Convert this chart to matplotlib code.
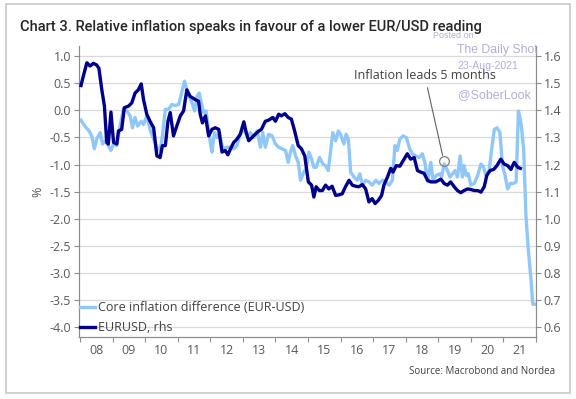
import matplotlib
matplotlib.use("Agg")
import matplotlib.pyplot as plt
from matplotlib import font_manager
from matplotlib.patches import Rectangle

# ---------------- data ----------------
# Core inflation difference (EUR-USD), %, shifted 5 months ahead (left axis)
infl_t = [2008.03, 2008.15, 2008.28, 2008.36, 2008.44, 2008.51, 2008.62, 2008.69, 2008.77, 2008.87,
          2008.95, 2009.03, 2009.13, 2009.23, 2009.33, 2009.44, 2009.54, 2009.61, 2009.69, 2009.77,
          2009.88, 2009.95, 2010.05, 2010.15, 2010.26, 2010.36, 2010.46, 2010.53, 2010.62, 2010.72,
          2010.82, 2010.92, 2011.03, 2011.13, 2011.21, 2011.31, 2011.42, 2011.52, 2011.59, 2011.66,
          2011.79, 2011.87, 2011.93, 2012.00, 2012.05, 2012.13, 2012.21, 2012.28, 2012.36, 2012.44,
          2012.51, 2012.62, 2012.72, 2012.82, 2012.92, 2013.03, 2013.13, 2013.23, 2013.33, 2013.44,
          2013.54, 2013.61, 2013.69, 2013.79, 2013.90, 2014.00, 2014.10, 2014.21, 2014.31, 2014.39,
          2014.46, 2014.53, 2014.62, 2014.70, 2014.77, 2014.87, 2014.94, 2015.03, 2015.11, 2015.18,
          2015.25, 2015.35, 2015.46, 2015.54, 2015.62, 2015.69, 2015.76, 2015.85, 2015.93, 2016.00,
          2016.10, 2016.17, 2016.24, 2016.31, 2016.41, 2016.51, 2016.59, 2016.67, 2016.77, 2016.87,
          2016.97, 2017.08, 2017.18, 2017.28, 2017.38, 2017.49, 2017.59, 2017.67, 2017.74, 2017.82,
          2017.92, 2018.02, 2018.12, 2018.20, 2018.31, 2018.41, 2018.51, 2018.59, 2018.67, 2018.77,
          2018.84, 2018.94, 2019.05, 2019.10, 2019.18, 2019.26, 2019.36, 2019.44, 2019.51, 2019.59,
          2019.67, 2019.74, 2019.79, 2019.86, 2019.92, 2020.00, 2020.10, 2020.21, 2020.31, 2020.39,
          2020.46, 2020.56, 2020.64, 2020.72, 2020.80, 2020.89, 2020.97, 2021.05, 2021.13, 2021.21,
          2021.31, 2021.39, 2021.46, 2021.54, 2021.62, 2021.69, 2021.76, 2021.85, 2021.90, 2021.95]
infl_v = [-0.18, -0.29, -0.38, -0.47, -0.71, -0.53, -0.41, -0.62, -0.56, -0.65,
          -0.74, -0.62, -0.65, -0.29, 0.02, -0.01, -0.10, -0.32, -0.13, -0.29,
          -0.20, -0.26, -0.10, -0.35, -0.53, -0.68, -0.74, -0.47, 0.02, 0.02,
          0.11, 0.09, 0.11, 0.35, 0.54, 0.32, 0.17, -0.01, 0.26, 0.32,
          -0.04, -0.01, -0.29, -0.59, -0.77, -0.41, -0.50, -0.41, -0.65, -0.71,
          -0.68, -0.68, -0.71, -0.65, -0.44, -0.35, -0.47, -0.41, -0.50, -0.38,
          -0.68, -0.41, -0.68, -0.44, -0.47, -0.62, -0.68, -0.71, -0.74, -0.96,
          -0.77, -0.65, -0.84, -0.96, -1.29, -1.14, -1.08, -0.77, -0.90, -1.05,
          -1.05, -0.87, -0.99, -1.02, -1.11, -0.77, -0.41, -0.56, -0.38, -0.44,
          -0.62, -0.44, -0.53, -1.14, -1.23, -1.29, -1.17, -1.38, -1.29, -1.32,
          -1.38, -1.29, -1.35, -1.29, -1.32, -1.38, -1.29, -0.65, -0.74, -0.53,
          -0.47, -0.50, -0.71, -0.80, -0.84, -0.87, -0.80, -0.96, -1.32, -0.96,
          -1.29, -1.20, -1.17, -1.23, -0.99, -1.08, -1.23, -1.17, -1.11, -1.23,
          -0.84, -1.23, -1.02, -1.20, -1.17, -1.38, -1.35, -1.20, -0.99, -1.05,
          -1.20, -1.11, -0.71, -0.35, -0.32, -0.40, -1.02, -1.20, -1.45, -1.35,
          -1.35, -1.32, -0.01, -0.23, -0.71, -1.93, -2.54, -3.15, -3.58, -3.58]

# EURUSD (right axis)
usd_t = [2008.03, 2008.10, 2008.21, 2008.31, 2008.41, 2008.51, 2008.58, 2008.67, 2008.75, 2008.82,
         2008.87, 2008.95, 2009.03, 2009.13, 2009.18, 2009.28, 2009.36, 2009.49, 2009.59, 2009.69,
         2009.79, 2009.88, 2009.95, 2010.05, 2010.15, 2010.26, 2010.36, 2010.46, 2010.53, 2010.62,
         2010.70, 2010.77, 2010.87, 2010.97, 2011.08, 2011.18, 2011.28, 2011.38, 2011.54, 2011.64,
         2011.69, 2011.76, 2011.85, 2011.95, 2012.05, 2012.15, 2012.26, 2012.36, 2012.46, 2012.54,
         2012.62, 2012.72, 2012.82, 2012.92, 2013.03, 2013.10, 2013.18, 2013.28, 2013.38, 2013.49,
         2013.57, 2013.69, 2013.79, 2013.92, 2014.00, 2014.10, 2014.18, 2014.29, 2014.39, 2014.49,
         2014.59, 2014.70, 2014.80, 2014.90, 2015.01, 2015.11, 2015.18, 2015.25, 2015.35, 2015.44,
         2015.54, 2015.64, 2015.74, 2015.85, 2015.95, 2016.05, 2016.15, 2016.26, 2016.36, 2016.46,
         2016.56, 2016.67, 2016.77, 2016.87, 2016.97, 2017.06, 2017.16, 2017.26, 2017.33, 2017.44,
         2017.54, 2017.61, 2017.71, 2017.82, 2017.92, 2018.05, 2018.15, 2018.26, 2018.36, 2018.46,
         2018.56, 2018.67, 2018.77, 2018.92, 2019.08, 2019.18, 2019.28, 2019.38, 2019.49, 2019.59,
         2019.69, 2019.79, 2019.90, 2020.00, 2020.10, 2020.21, 2020.31, 2020.41, 2020.49, 2020.59,
         2020.70, 2020.80, 2020.92, 2021.02, 2021.13, 2021.23, 2021.33, 2021.44, 2021.52]
usd_v = [1.492, 1.526, 1.576, 1.564, 1.574, 1.568, 1.556, 1.476, 1.416, 1.282,
         1.276, 1.394, 1.282, 1.276, 1.324, 1.330, 1.410, 1.416, 1.428, 1.464,
         1.476, 1.498, 1.440, 1.386, 1.360, 1.336, 1.232, 1.226, 1.270, 1.270,
         1.360, 1.392, 1.306, 1.342, 1.380, 1.398, 1.476, 1.452, 1.440, 1.434,
         1.386, 1.354, 1.380, 1.306, 1.330, 1.336, 1.330, 1.246, 1.252, 1.236,
         1.258, 1.282, 1.294, 1.312, 1.358, 1.320, 1.288, 1.300, 1.312, 1.324,
         1.330, 1.360, 1.364, 1.374, 1.360, 1.386, 1.380, 1.388, 1.374, 1.368,
         1.324, 1.270, 1.258, 1.232, 1.136, 1.124, 1.080, 1.118, 1.104, 1.104,
         1.124, 1.110, 1.120, 1.086, 1.088, 1.092, 1.118, 1.142, 1.124, 1.120,
         1.118, 1.126, 1.110, 1.062, 1.074, 1.056, 1.068, 1.086, 1.124, 1.154,
         1.186, 1.172, 1.196, 1.194, 1.214, 1.240, 1.220, 1.226, 1.178, 1.172,
         1.168, 1.142, 1.136, 1.136, 1.146, 1.130, 1.124, 1.136, 1.118, 1.104,
         1.096, 1.104, 1.110, 1.108, 1.104, 1.104, 1.098, 1.118, 1.160, 1.178,
         1.182, 1.196, 1.220, 1.202, 1.196, 1.182, 1.208, 1.190, 1.186]

years = list(range(2008, 2023))
year_labels = ["08", "09", "10", "11", "12", "13", "14", "15", "16", "17", "18", "19", "20", "21"]
left_ticks = [1.0, 0.5, 0.0, -0.5, -1.0, -1.5, -2.0, -2.5, -3.0, -3.5, -4.0]
right_ticks = [1.6, 1.5, 1.4, 1.3, 1.2, 1.1, 1.0, 0.9, 0.8, 0.7, 0.6]

title = "Chart 3. Relative inflation speaks in favour of a lower EUR/USD reading"
annot_text = "Inflation leads 5 months"
annot_point = (2019.17, -0.93)
annot_text_pos = (2018.585, 0.64)

# ---------------- style ----------------
names = {f.name for f in font_manager.fontManager.ttflist}
narrow = "Liberation Sans Narrow" if "Liberation Sans Narrow" in names else "Roboto"
ui_font = "Open Sans" if "Open Sans" in names else "DejaVu Sans"
wm_font = "Liberation Sans"

LIGHT = "#8fc8f8"
DARK = "#00008c"
TXT = "#404040"
TICK = "#595959"
GRID = "#d9d9d9"
SPINE = "#8c8c8c"

W, H, DPI = 576, 399, 100
fig = plt.figure(figsize=(W / DPI, H / DPI), dpi=DPI)
fig.patch.set_facecolor("white")

def fx(px):
    return px / W

def fy(py):
    return 1 - py / H

ax = fig.add_axes([fx(79), fy(337), fx(536) - fx(79), fy(46) - fy(337)])
ax2 = ax.twinx()

lo, hi = -4.185, 1.19
ax.set_ylim(lo, hi)
ax2.set_ylim(1.4 + 0.2 * lo, 1.4 + 0.2 * hi)
ax.set_xlim(2008 - 1 / 32.5, 2022.0)

l1, = ax.plot(infl_t, infl_v, color=LIGHT, lw=2.4, solid_joinstyle="round", zorder=3)
l2, = ax2.plot(usd_t, usd_v, color=DARK, lw=2.4, solid_joinstyle="round", zorder=3)

# grid
ax.set_yticks(left_ticks)
ax.yaxis.grid(True, color=GRID, lw=0.9)
ax.set_axisbelow(True)
ax2.set_yticks(right_ticks)

# x ticks
ax.set_xticks(years)
ax.set_xticklabels([])
ax.set_xticks([y + 0.5 for y in years[:-1]], minor=True)
ax.set_xticklabels(year_labels, minor=True)
ax.tick_params(axis="x", which="major", length=3.5, width=0.8, color=SPINE, direction="out")
ax.tick_params(axis="x", which="minor", length=0, pad=5, labelsize=9, labelcolor=TICK)
for lab in ax.get_xticklabels(minor=True):
    lab.set_fontfamily(ui_font)

ax.tick_params(axis="y", length=3.5, width=0.8, color=SPINE, labelsize=9, labelcolor=TICK, pad=2)
ax2.tick_params(axis="y", length=3.5, width=0.8, color=SPINE, labelsize=9, labelcolor=TICK, pad=2)
ax.set_yticklabels([f"{v:.1f}" for v in left_ticks], fontfamily=ui_font)
ax2.set_yticklabels([f"{v:.1f}" for v in right_ticks], fontfamily=ui_font)

for a in (ax, ax2):
    a.spines["top"].set_visible(False)
    for s in ("left", "right", "bottom"):
        a.spines[s].set_color(SPINE)
        a.spines[s].set_linewidth(0.8)
ax2.patch.set_visible(False)

ax.set_ylabel("%", fontfamily=ui_font, fontsize=9, color=TICK, labelpad=4)

# legend
leg = ax2.legend([l1, l2], ["Core inflation difference (EUR-USD)", "EURUSD, rhs"],
                 loc="lower left", bbox_to_anchor=(0.0, 0.005), frameon=False,
                 prop={"family": ui_font, "size": 9}, labelcolor=TXT,
                 handlelength=1.15, handletextpad=0.3, labelspacing=0.55,
                 borderpad=0.1, borderaxespad=0.0)

# annotation
ax2.plot([annot_point[0]], [1.4 + 0.2 * annot_point[1]], marker="o", ms=7, mfc="none",
         mec="#7f7f7f", mew=0.9, zorder=5)
ax2.annotate(annot_text, xy=(annot_point[0], 1.4 + 0.2 * annot_point[1]),
             xytext=(annot_text_pos[0], 1.4 + 0.2 * annot_text_pos[1]),
             ha="center", va="center", fontsize=9, family=ui_font, color=TXT,
             arrowprops=dict(arrowstyle="-", color="#606060", lw=0.8, shrinkA=2, shrinkB=4),
             zorder=6)

# title, fitted to width
t = fig.text(fx(20), fy(27), title, fontsize=11, family=narrow, weight="medium",
             color="#262626", ha="left", va="center")
fig.canvas.draw()
r = fig.canvas.get_renderer()
wpx = t.get_window_extent(r).width
t.set_fontsize(11 * 461 / wpx)

# watermarks
WM = "#b0b0d8"
fig.text(fx(433), fy(35), "Posted on", fontsize=6.5, family=wm_font, color=WM, va="center")
fig.text(fx(457), fy(50), "The Daily Shot", fontsize=8.8, family=wm_font, color=WM, va="center")
fig.text(fx(457), fy(66), "23-Aug-2021", fontsize=7.6, family=wm_font, color=WM, va="center")
fig.text(fx(458), fy(95), "@SoberLook", fontsize=8.9, family=wm_font, color=WM, va="center")

# source
fig.text(fx(555), fy(372), "Source: Macrobond and Nordea", fontsize=7, family=ui_font,
         color=TXT, ha="right", va="center")

# outer frame
fig.patches.append(Rectangle((fx(6), fy(393)), fx(570) - fx(6), fy(4) - fy(393),
                             transform=fig.transFigure, fill=False, edgecolor="#c8c8c8",
                             lw=1.2))

fig.savefig("out.png", dpi=DPI)
